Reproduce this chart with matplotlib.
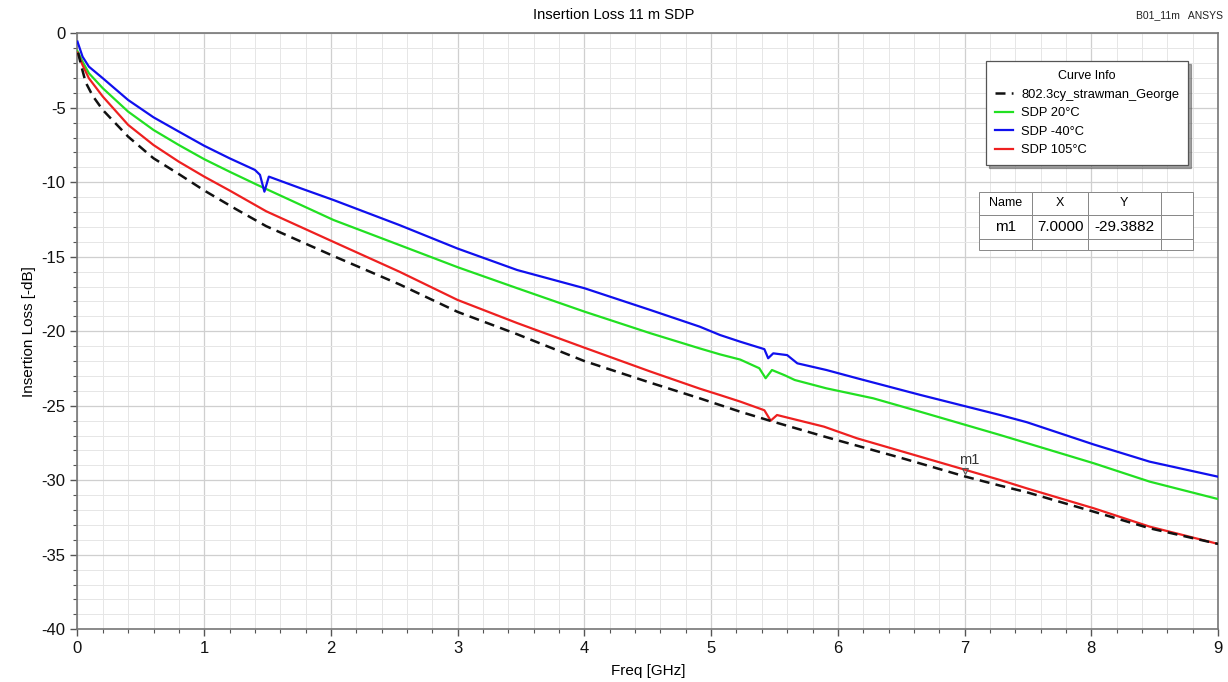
import matplotlib
matplotlib.use("Agg")
import matplotlib.pyplot as plt
from matplotlib.ticker import MultipleLocator

plt.rcParams['font.family'] = ['Liberation Sans', 'DejaVu Sans']
plt.rcParams['axes.unicode_minus'] = False

# ---- data ----
freq_ref = [0.005, 0.03, 0.065, 0.12, 0.2, 0.4, 0.6, 0.8, 1.0, 1.25, 1.49, 2.02, 2.54, 3.0, 3.47,
            4.0, 4.52, 4.91, 5.07, 5.23, 5.49, 5.94, 6.5, 7.01, 7.28, 7.49, 8.02, 8.46, 9.0]
il_ref = [-1.3, -2.2, -3.3, -4.2, -5.15, -6.94, -8.39, -9.45, -10.55, -11.8, -12.95, -14.95, -16.85, -18.7, -20.2,
          -22.0, -23.45, -24.5, -24.95, -25.4, -26.07, -27.18, -28.5, -29.76, -30.36, -30.8, -32.11, -33.22, -34.27]

freq_20 = [0.0, 0.04, 0.09, 0.2, 0.4, 0.6, 0.8, 1.0, 1.2, 1.42, 2.02, 2.54, 3.0, 3.47, 4.0, 4.52, 4.91, 5.07,
           5.23, 5.38, 5.43, 5.48, 5.58, 5.66, 5.91, 6.28, 6.65, 7.28, 7.49, 8.02, 8.46, 9.0]
il_20 = [-1.2, -1.9, -2.68, -3.69, -5.26, -6.49, -7.5, -8.45, -9.29, -10.18, -12.53, -14.21, -15.7, -17.11, -18.68,
         -20.13, -21.15, -21.55, -21.9, -22.48, -23.15, -22.6, -22.95, -23.27, -23.83, -24.5, -25.4, -26.96, -27.5,
         -28.86, -30.09, -31.26]

freq_m40 = [0.0, 0.04, 0.09, 0.2, 0.4, 0.6, 0.8, 1.0, 1.2, 1.40, 1.44, 1.475, 1.51, 1.76, 2.02, 2.54, 3.0, 3.47,
            4.0, 4.52, 4.91, 5.07, 5.23, 5.42, 5.45, 5.49, 5.6, 5.68, 5.91, 6.15, 6.65, 7.28, 7.49, 8.02, 8.46, 9.0]
il_m40 = [-0.56, -1.57, -2.24, -3.02, -4.48, -5.64, -6.6, -7.55, -8.39, -9.17, -9.5, -10.63, -9.62, -10.4, -11.19,
          -12.87, -14.45, -15.89, -17.11, -18.57, -19.69, -20.25, -20.7, -21.2, -21.81, -21.48, -21.6, -22.15, -22.6,
          -23.15, -24.27, -25.62, -26.1, -27.6, -28.75, -29.76]

freq_105 = [0.0, 0.04, 0.09, 0.2, 0.4, 0.6, 0.8, 1.0, 1.2, 1.49, 2.02, 2.54, 3.0, 3.47, 4.0, 4.52, 4.91, 5.07,
            5.23, 5.42, 5.47, 5.52, 5.89, 6.15, 7.01, 7.28, 7.49, 8.02, 8.46, 9.0]
il_105 = [-1.3, -2.13, -3.02, -4.25, -6.15, -7.5, -8.62, -9.62, -10.55, -11.95, -14.0, -16.0, -17.9, -19.45, -21.1,
          -22.7, -23.85, -24.28, -24.72, -25.3, -26.0, -25.62, -26.4, -27.18, -29.31, -29.98, -30.54, -31.88, -33.11,
          -34.27]

series_labels = ['802.3cy_strawman_George', 'SDP 20\u00b0C', 'SDP -40\u00b0C', 'SDP 105\u00b0C']
marker_name = 'm1'
marker_x = 7.0
marker_y = -29.3882

# ---- figure ----
fig = plt.figure(figsize=(12.28, 6.82), dpi=100)
ax = fig.add_axes([0.0631, 0.0773, 0.9288, 0.8739])

ax.plot(freq_ref, il_ref, color='#111111', lw=1.8, ls=(0, (4, 2.5)), label=series_labels[0], zorder=5)
ax.plot(freq_20, il_20, color='#22e022', lw=1.6, label=series_labels[1], zorder=4)
ax.plot(freq_m40, il_m40, color='#1010ee', lw=1.6, label=series_labels[2], zorder=4)
ax.plot(freq_105, il_105, color='#ee2020', lw=1.6, label=series_labels[3], zorder=4)

# marker
ax.plot([marker_x], [marker_y], marker='v', ms=4.5, mfc='none', mec='#555555', mew=0.8, zorder=6)
ax.annotate(marker_name, (marker_x, marker_y), xytext=(-4, 5), textcoords='offset points',
            fontsize=10.5, color='#333333')

ax.set_xlim(0, 9)
ax.set_ylim(-40, 0)
ax.xaxis.set_major_locator(MultipleLocator(1))
ax.xaxis.set_minor_locator(MultipleLocator(0.2))
ax.yaxis.set_major_locator(MultipleLocator(5))
ax.yaxis.set_minor_locator(MultipleLocator(1))
ax.grid(which='major', color='#cfcfcf', lw=0.9)
ax.grid(which='minor', color='#e6e6e6', lw=0.7)
ax.set_axisbelow(True)
ax.tick_params(which='major', direction='out', length=5, width=1, colors='#555555', labelcolor='#111111', labelsize=12)
ax.tick_params(which='minor', direction='out', length=3, width=0.8, colors='#555555')
for s in ax.spines.values():
    s.set_color('#777777')
    s.set_linewidth(1.2)

ax.set_xlabel('Freq [GHz]', fontsize=11, labelpad=6)
ax.set_ylabel('Insertion Loss [-dB]', fontsize=11, labelpad=4)
fig.text(0.5, 0.978, 'Insertion Loss 11 m SDP', ha='center', va='center', fontsize=10.5)
fig.text(0.925, 0.978, 'B01_11m   ANSYS', ha='left', va='center', fontsize=7.5, color='#222222')

leg = ax.legend(title='Curve Info', loc='upper left', bbox_to_anchor=(0.791, 0.964),
                frameon=True, fancybox=False, shadow=True, fontsize=9.3, title_fontsize=9,
                handlelength=1.4, handletextpad=0.6, borderpad=0.7, labelspacing=0.5, edgecolor='#555555')
leg.get_frame().set_linewidth(0.9)

# marker table
cell_text = [['Name', 'X', 'Y', ''], [marker_name, f'{marker_x:.4f}', f'{marker_y:.4f}', ''], ['', '', '', '']]
tbl = ax.table(cellText=cell_text, bbox=[0.79, 0.636, 0.188, 0.098], cellLoc='center',
               colWidths=[0.25, 0.26, 0.34, 0.15], zorder=7)
tbl.auto_set_font_size(False)
for (r, c), cell in tbl.get_celld().items():
    cell.set_edgecolor('#888888')
    cell.set_linewidth(0.7)
    cell.set_facecolor('white')
    cell.get_text().set_fontsize(9 if r == 0 else 11)
cells = tbl.get_celld()
for c in range(4):
    cells[(0, c)].set_height(0.4)
    cells[(1, c)].set_height(0.4)
    cells[(2, c)].set_height(0.2)

fig.savefig('out.png', dpi=100)
